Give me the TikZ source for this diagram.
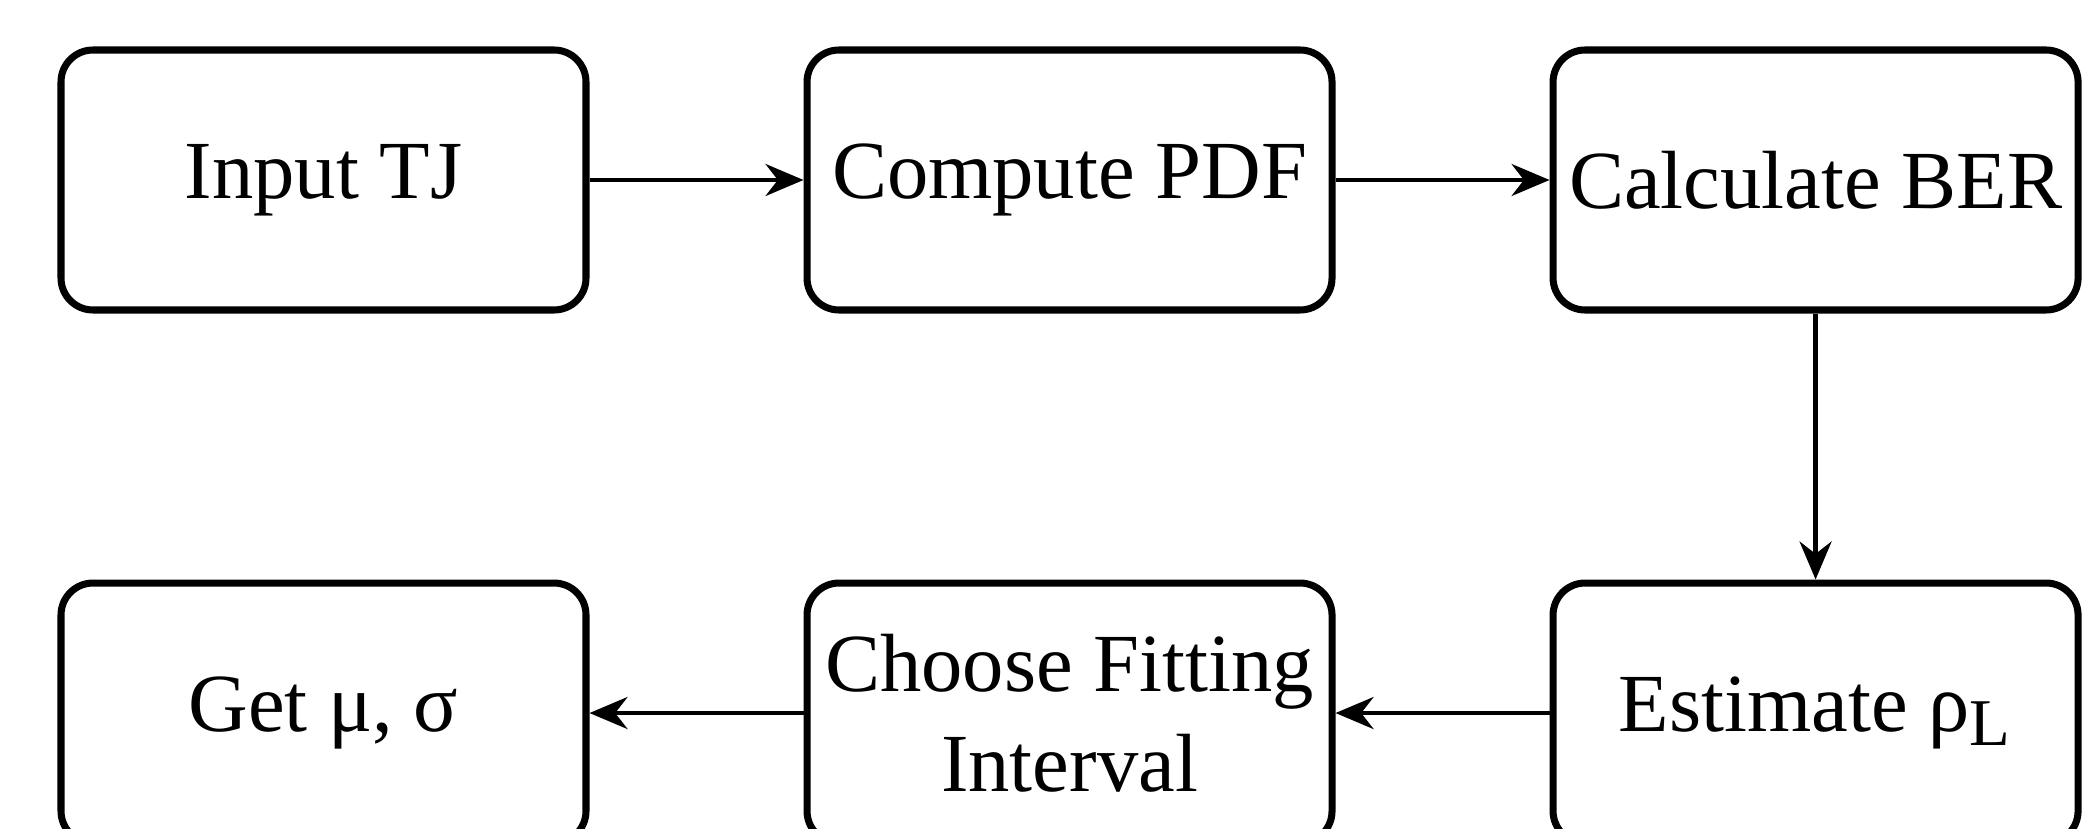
\documentclass[tikz,border=0pt]{standalone}
\usepackage{fontspec}
\setmainfont{Liberation Serif}
\usetikzlibrary{positioning,arrows.meta}

\begin{document}
\begin{tikzpicture}[
		stepbox/.style={draw, line width=2pt, rounded corners=0.32cm,
			minimum width=5.25cm, minimum height=2.6cm, align=center,
			inner sep=1pt, font=\fontsize{23.5}{28.5}\selectfont},
		flow/.style={-{Stealth[length=0.38cm, width=0.32cm]}, line width=1.2pt},
		node distance = 2.66cm and 2.14cm
		]
	\path[use as bounding box, clip] (0,0) rectangle (20.93,8.28);
	\node [stepbox] (input) at (3.235,6.48) {Input TJ};
	\node [stepbox, right=of input] (pdf) {Compute PDF};
	\node [stepbox, right=of pdf] (ber) {Calculate BER};
	\node [stepbox, below=of ber] (rho) {Estimate ρ\textsubscript{\fontsize{19}{19}\selectfont L}};
	\node [stepbox, left=of rho] (interval) {Choose Fitting\\Interval};
	\node [stepbox, left=of interval] (params) {Get μ, σ};
	\draw [flow] (input) -- (pdf);
	\draw [flow] (pdf) -- (ber);
	\draw [flow] (ber) -- (rho);
	\draw [flow] (rho) -- (interval);
	\draw [flow] (interval) -- (params);
\end{tikzpicture}
\end{document}
